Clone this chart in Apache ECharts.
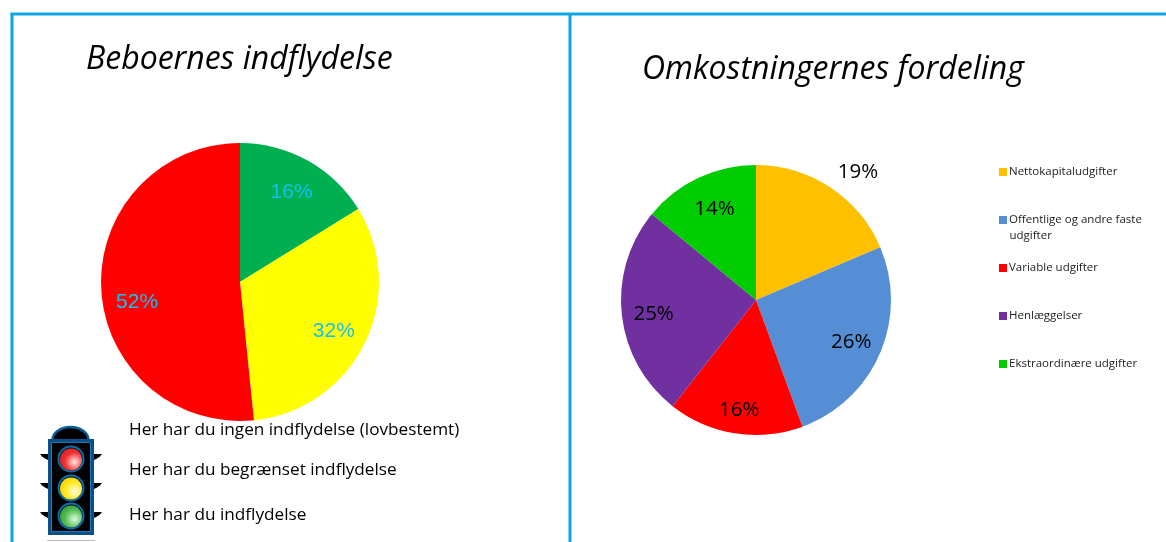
<!DOCTYPE html>
<html>
<head>
<meta charset="utf-8">
<style>
html, body { margin: 0; padding: 0; background: #fff; }
#chart { width: 1166px; height: 542px; }
</style>
<script src="https://cdn.jsdelivr.net/npm/echarts@6/dist/echarts.min.js"></script>
</head>
<body>
<div id="chart"></div>
<script>
const influenceNames = ['Her har du indflydelse', 'Her har du begrænset indflydelse', 'Her har du ingen indflydelse (lovbestemt)'];
const influenceValues = [16.2, 32.2, 51.6];
const influenceColors = ['#00b050', '#ffff00', '#ff0000'];
const influenceLabelShift = [[-1, 5], [-3, 1], [5, 15]];
const costNames = ['Nettokapitaludgifter', 'Offentlige og andre faste udgifter', 'Variable udgifter', 'Henlæggelser', 'Ekstraordinære udgifter'];
const costValues = [18.6, 25.8, 16.2, 25.4, 14.0];
const costColors = ['#ffc000', '#558ed5', '#ff0000', '#7030a0', '#00cc00'];
const costLabelShift = [[43, -39], [-3, 0], [0, 4], [4, 3], [4, 6]];
const frameColor = '#0ea5e4';
const uiFont = '"Open Sans", "Noto Sans", sans-serif';

const toData = (names, values, colors) => names.map((name, i) => ({ name, value: values[i], itemStyle: { color: colors[i] } }));

// pie without labels, plus a see-through ring on top that only carries the labels
const pieSeries = (center, r, labelRing, data, labelStyle, shift) => [
    {
        type: 'pie', center, radius: [0, r], startAngle: 90, silent: true,
        animation: false, label: { show: false }, labelLine: { show: false }, data
    },
    {
        type: 'pie', center, radius: labelRing, startAngle: 90, silent: true, animation: false,
        itemStyle: { color: 'transparent' }, emphasis: { disabled: true },
        label: Object.assign({ position: 'inner', formatter: p => Math.round(p.value) + '%' }, labelStyle),
        labelLine: { show: false },
        labelLayout: p => ({ dx: shift[p.dataIndex][0], dy: shift[p.dataIndex][1] }),
        data: data.map(d => ({ name: d.name, value: d.value, itemStyle: { color: 'transparent' } }))
    }
];

const graphics = [];
const line = (x1, y1, x2, y2, color, w) => graphics.push({ type: 'line', shape: { x1, y1, x2, y2 }, style: { stroke: color, lineWidth: w } });
const text = (x, y, t, size, extra) => graphics.push({ type: 'text', x, y, style: Object.assign({ text: t, font: `${size}px ${uiFont}`, fill: '#000', textVerticalAlign: 'middle' }, extra) });

// frame
line(10.5, 14, 1166, 14, frameColor, 3);
line(12, 13, 12, 542, frameColor, 3);
line(570, 13, 570, 542, frameColor, 3);

text(86, 60, 'Beboernes indflydelse', 32, { font: `italic 32px ${uiFont}` });
text(642, 70, 'Omkostningernes fordeling', 32, { font: `italic 32px ${uiFont}` });

text(129, 430, influenceNames[2], 17.2);
text(129, 470, influenceNames[1], 17.2);
text(129, 515, influenceNames[0], 17.2);
text(1009.5, 236, 'udgifter', 11.5, { fill: '#222' });

// traffic light
const lampY = [459, 488, 516];
const wingY = [454, 483, 512];
const lampColors = [['#ffe8e8', '#f03030', '#d02020'], ['#fffde0', '#ffe818', '#eccc00'], ['#e0f8e0', '#50bc50', '#2f952f']];
graphics.push({ type: 'ellipse', shape: { cx: 70.5, cy: 440, rx: 18, ry: 13 }, style: { fill: '#000', stroke: '#0a5e9e', lineWidth: 2.5 } });
wingY.forEach(y => {
    graphics.push({ type: 'polygon', shape: { points: [[40, y], [48, y], [48, y + 6], [45, y + 4.5], [42, y + 2.5]] }, style: { fill: '#000' } });
    graphics.push({ type: 'polygon', shape: { points: [[102, y], [94, y], [94, y + 6], [97, y + 4.5], [100, y + 2.5]] }, style: { fill: '#000' } });
});
graphics.push({ type: 'rect', shape: { x: 49.5, y: 440.5, width: 43, height: 93 }, style: { fill: '#000', stroke: '#0a4f88', lineWidth: 3 } });
graphics.push({ type: 'rect', shape: { x: 51.5, y: 442.5, width: 39, height: 89 }, style: { fill: 'none', stroke: '#1e78b8', lineWidth: 1 } });
lampY.forEach((y, i) => {
    graphics.push({ type: 'circle', shape: { cx: 71, cy: y, r: 12.5 }, style: { fill: '#111', stroke: '#0a6fae', lineWidth: 2 } });
    graphics.push({
        type: 'circle', shape: { cx: 71, cy: y + 0.5, r: 11 },
        style: { fill: { type: 'radial', x: 0.66, y: 0.62, r: 0.8, colorStops: [{ offset: 0, color: lampColors[i][0] }, { offset: 0.55, color: lampColors[i][1] }, { offset: 1, color: lampColors[i][2] }] } }
    });
});
line(47, 540.5, 95, 540.5, '#bbbbbb', 1);

const chart = echarts.init(document.getElementById('chart'));
chart.setOption({
    animation: false,
    legend: {
        orient: 'vertical', left: 994, top: 161, itemWidth: 8, itemHeight: 8, itemGap: 36, selectedMode: false,
        icon: 'rect', data: costNames,
        // long name wraps, second line is drawn on its own so the rows stay evenly spaced
        formatter: name => name === costNames[1] ? 'Offentlige og andre faste' : name,
        textStyle: { fontFamily: uiFont, fontSize: 11.5, color: '#222', padding: [0, 0, 0, -3] }
    },
    series: [
        ...pieSeries([240, 282], 139, [71, 139], toData(influenceNames, influenceValues, influenceColors),
            { color: '#14c0f0', fontFamily: 'Liberation Sans', fontSize: 21 }, influenceLabelShift),
        ...pieSeries([756, 300], 135, [73, 135], toData(costNames, costValues, costColors),
            { color: '#000', fontFamily: uiFont, fontSize: 20.5 }, costLabelShift)
    ],
    graphic: graphics
});
</script>
</body>
</html>
